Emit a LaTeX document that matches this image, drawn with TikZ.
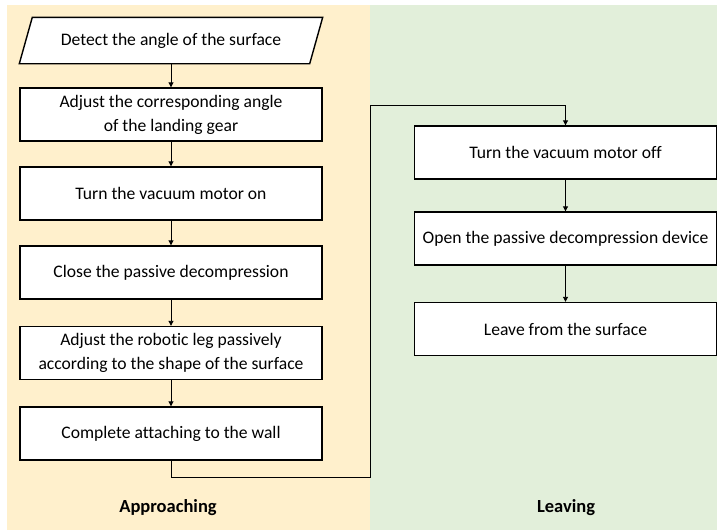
\documentclass[tikz,border=0pt]{standalone}
\usepackage{fontspec}
\setmainfont{Carlito}[Ligatures={NoCommon}]
\usetikzlibrary{arrows.meta, calc, backgrounds}
\definecolor{approachbg}{HTML}{FFF0CC}
\definecolor{leavebg}{HTML}{E2EFDA}
\tikzset{
    procbox/.style={draw, line width=1.4pt, fill=white, minimum width=302pt, minimum height=53pt,
        align=center, inner sep=2pt, font=\fontsize{17.6}{24}\selectfont},
    flowline/.style={line width=0.9pt, -{Triangle[width=5pt,length=5pt]}},
    lanelabel/.style={font=\fontsize{18.5}{22}\selectfont\bfseries}
}

\begin{document}
\begin{tikzpicture}[x=1pt, y=-1pt]
    \useasboundingbox (0,0) rectangle (717,530);
    % approaching
    \node[procbox, draw=none, fill=none, minimum height=45pt] (detect) at (171,40.5) {Detect the angle of the surface};
    \node[procbox] (adjust) at (171,114.5) {Adjust the corresponding angle\\of the landing gear};
    \node[procbox] (motoron) at (171,193.5) {Turn the vacuum motor on};
    \node[procbox] (close) at (171,272.5) {Close the passive decompression};
    \node[procbox] (leg) at (171,353) {Adjust the robotic leg passively\\according to the shape of the surface};
    \node[procbox] (attach) at (171,433.5) {Complete attaching to the wall};
    % leaving
    \node[procbox] (motoroff) at (565.5,152.5) {Turn the vacuum motor off};
    \node[procbox] (open) at (565.5,238.5) {Open the passive decompression device};
    \node[procbox] (leave) at (565.5,329) {Leave from the surface};
    \node[lanelabel] (lblA) at (168,508) {Approaching};
    \node[lanelabel] (lblL) at (566,508) {Leaving};
    \begin{scope}[on background layer]
    \fill[approachbg] (7,5) rectangle (370,530);
    \fill[leavebg] (370,5) rectangle (717,530);
    \draw[line width=1.4pt, fill=white] ($(detect.north west)+(13,0)$) -- (detect.north east) -- ($(detect.south east)+(-13,0)$) -- (detect.south west) -- cycle;
    \end{scope}
    \coordinate (bendA) at (370,477);
    \coordinate (bendB) at (370,105);
    \draw[flowline] (detect) -- (adjust);
    \draw[flowline] (adjust) -- (motoron);
    \draw[flowline] (motoron) -- (close);
    \draw[flowline] (close) -- (leg);
    \draw[flowline] (leg) -- (attach);
    \draw[flowline] (attach.south) |- (bendA) -- (bendB) -| (motoroff.north);
    \draw[flowline] (motoroff) -- (open);
    \draw[flowline] (open) -- (leave);
\end{tikzpicture}
\end{document}
